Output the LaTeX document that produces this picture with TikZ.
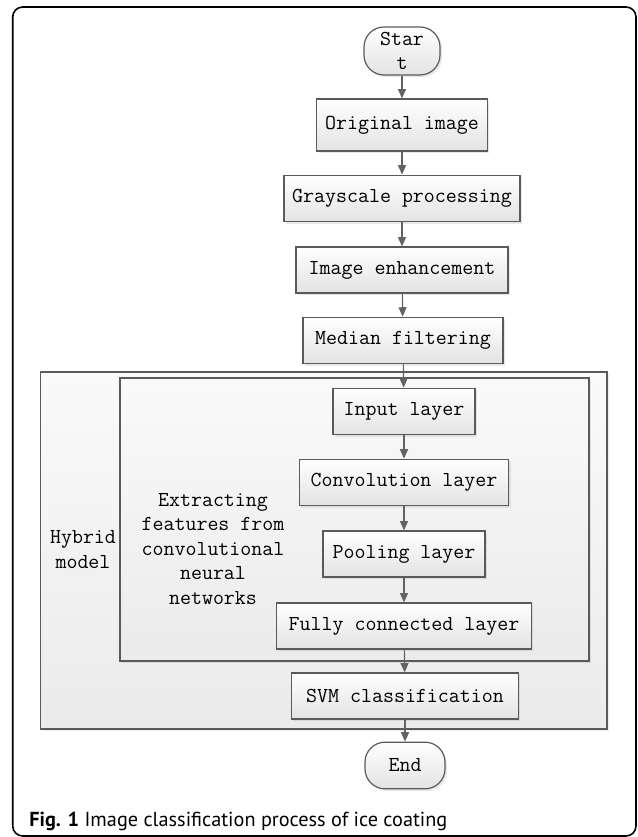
\documentclass[tikz,border=0pt]{standalone}
\usepackage{fontspec}
\setsansfont{PT Sans}
\usetikzlibrary{arrows.meta,shadows}
\definecolor{edgegray}{HTML}{5A5A5A}
\definecolor{arrowgray}{HTML}{626262}
\tikzset{
  stepbox/.style={draw=edgegray, line width=0.9pt, top color=white, bottom color=black!11,
    drop shadow={opacity=0.18, shadow xshift=1.6pt, shadow yshift=-1.6pt},
    font=\ttfamily\fontsize{16}{18.4}\selectfont, align=center, inner sep=0pt},
  termbox/.style={stepbox, rounded corners=15pt},
  groupbox/.style={draw=edgegray, line width=0.9pt, top color=black!2, bottom color=black!8,
    drop shadow={opacity=0.15, shadow xshift=1.6pt, shadow yshift=-1.6pt}},
  flow/.style={draw=arrowgray, line width=0.9pt, -{Triangle[length=7pt,width=6pt]}},
}
\begin{document}
\begin{tikzpicture}[x=0.75pt,y=0.75pt,yscale=-1]
\useasboundingbox (0,0) rectangle (637,837);
%Frame
\draw [line width=1.2pt, rounded corners=7.5pt] (12.7,7) rectangle (636,836);

%Shape: Rectangle [hybrid model]
\path [groupbox] (40.7,372) rectangle (607,729);
%Shape: Rectangle [feature extraction]
\path [groupbox] (120,378) rectangle (589,661);

% Flow Nodes
\node [termbox, minimum width=57pt, minimum height=36pt] (start) at (402,51) {Star\\t};
\node [stepbox, minimum width=128pt, minimum height=39pt] (orig) at (402,125) {Original image};
\node [stepbox, minimum width=177pt, minimum height=35pt] (gray) at (402,198.5) {Grayscale processing};
\node [stepbox, minimum width=159pt, minimum height=34.5pt] (enh) at (402,270) {Image enhancement};
\node [stepbox, minimum width=150pt, minimum height=35pt] (median) at (403,340.5) {Median filtering};
\node [stepbox, minimum width=106.5pt, minimum height=35pt] (input) at (404,411.5) {Input layer};
\node [stepbox, minimum width=157pt, minimum height=35pt] (conv) at (404,482.5) {Convolution layer};
\node [stepbox, minimum width=121.5pt, minimum height=34.5pt] (pool) at (404,554) {Pooling layer};
\node [stepbox, minimum width=191pt, minimum height=34.5pt] (fc) at (404,626) {Fully connected layer};
\node [stepbox, minimum width=170pt, minimum height=34.5pt] (svm) at (405,696) {SVM classification};
\node [termbox, minimum width=60pt, minimum height=35pt] (end) at (405,765.5) {End};

% Text Node
\node [font=\ttfamily\fontsize{16}{18.4}\selectfont, align=center] (hybrid) at (83,549.5) {Hybrid\\model};
% Text Node
\node [font=\ttfamily\fontsize{16}{18.4}\selectfont, align=center] (extract) at (213,549) {Extracting\\features from\\convolutional\\neural\\networks};

% Connectors
\draw [flow] (start) -- (orig);
\draw [flow] (orig) -- (gray);
\draw [flow] (gray) -- (enh);
\draw [flow] (enh) -- (median);
\draw [flow] (median) -- (input);
\draw [flow] (input) -- (conv);
\draw [flow] (conv) -- (pool);
\draw [flow] (pool) -- (fc);
\draw [flow] (fc) -- (svm);
\draw [flow] (svm) -- (end);

% Caption
\node [anchor=base west, inner sep=0pt, font=\sffamily\fontsize{15.2}{18}\selectfont] (caption) at (29,826) {\textbf{Fig. 1} Image classification process of ice coating};
\end{tikzpicture}
\end{document}
